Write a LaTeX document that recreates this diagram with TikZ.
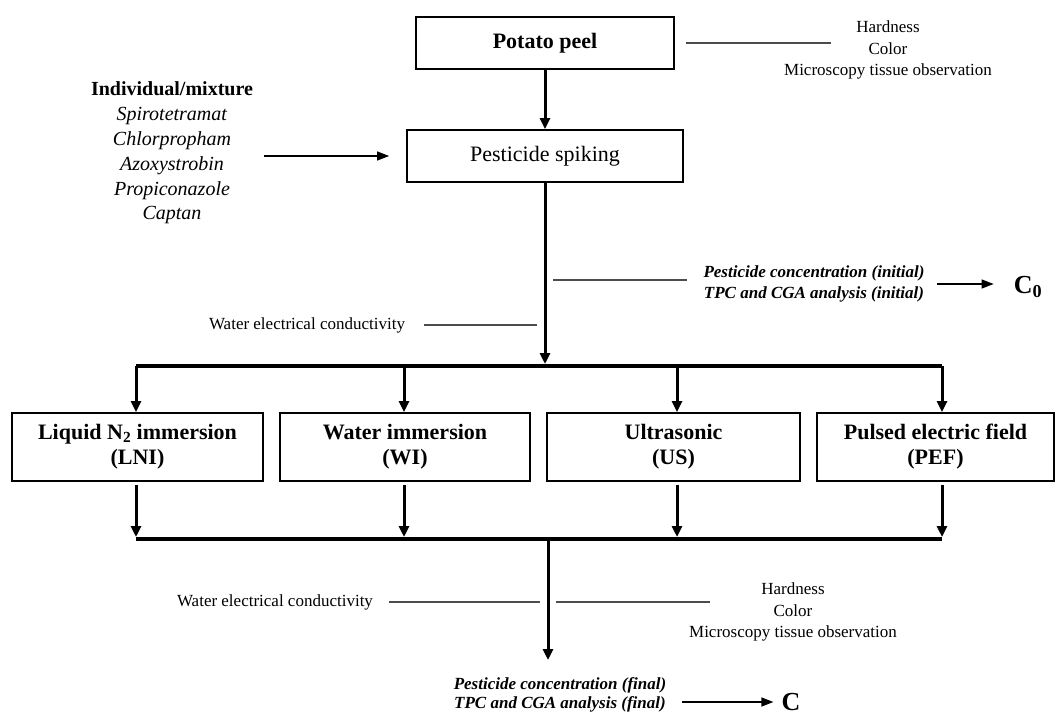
\documentclass[tikz,border=0pt]{standalone}
\usepackage{fontspec}
\setmainfont{Liberation Serif}
\usetikzlibrary{arrows.meta}

\newcommand{\boxfont}{\fontsize{22}{25}\selectfont}
\newcommand{\notefont}{\fontsize{17}{21.5}\selectfont}
\newcommand{\listfont}{\fontsize{20}{24.8}\selectfont}
\newcommand{\concfont}{\fontsize{17}{21}\selectfont\bfseries\itshape}
\newcommand{\resfont}{\fontsize{26}{30}\selectfont\bfseries}

\begin{document}
\begin{tikzpicture}[x=1pt, y=-1pt,
        block/.style={draw, line width=1.8pt, minimum height=52pt, inner sep=0pt, align=center, font=\boxfont},
        method/.style={block, minimum height=68pt, font=\boxfont\bfseries},
        note/.style={align=center, inner sep=0pt, font=\notefont},
        arrow/.style={-{Stealth[inset=0pt, length=11pt, width=10pt]}, line width=3pt},
        thin arrow/.style={-{Stealth[inset=0pt, length=12pt, width=9pt]}, line width=1.3pt},
        tick/.style={line width=1.1pt, black!70},
        bar/.style={line width=4.5pt}
    ]
    \useasboundingbox (0,0) rectangle (1057,717);

    % Nodes
    \node[block, minimum width=258pt, font=\boxfont\bfseries] (peel) at (545,43) {Potato peel};
    \node[block, minimum width=276pt] (spike) at (545,156) {Pesticide spiking};
    \node[note, font=\listfont] (mix) at (172,153) {\textbf{Individual/mixture}\\\textit{Spirotetramat}\\\textit{Chlorpropham}\\\textit{Azoxystrobin}\\\textit{Propiconazole}\\\textit{Captan}};
    \node[note] (props) at (888,50) {Hardness\\Color\\Microscopy tissue observation};
    \node[note, font=\concfont] (init) at (814,284) {Pesticide concentration (initial)\\TPC and CGA analysis (initial)};
    \node[font=\resfont, inner sep=0pt] (c0) at (1028,287) {C\textsubscript{0}};
    \node[note] (wec1) at (307,325) {Water electrical conductivity};

    \node[method, minimum width=251pt] (lni) at (137.5,447) {Liquid N\textsubscript{2} immersion\\(LNI)};
    \node[method, minimum width=250pt] (wi) at (405,447) {Water immersion\\(WI)};
    \node[method, minimum width=253pt] (us) at (673.5,447) {Ultrasonic\\(US)};
    \node[method, minimum width=237pt] (pef) at (935.5,447) {Pulsed electric field\\(PEF)};

    \node[note] (wec2) at (275,602) {Water electrical conductivity};
    \node[note] (props2) at (793,612) {Hardness\\Color\\Microscopy tissue observation};
    \node[note, font=\fontsize{17}{18.5}\selectfont\bfseries\itshape] (final) at (560,695) {Pesticide concentration (final)\\TPC and CGA analysis (final)};
    \node[font=\resfont, inner sep=0pt] (c) at (791,702) {C};

    % Junctions
    \coordinate (split) at (545,366);
    \coordinate (top1) at (136,366);
    \coordinate (top2) at (404,366);
    \coordinate (top3) at (677,366);
    \coordinate (top4) at (942,366);
    \coordinate (merge) at (548,539);
    \coordinate (bot1) at (136,539);
    \coordinate (bot2) at (404,539);
    \coordinate (bot3) at (677,539);
    \coordinate (bot4) at (942,539);
    \coordinate (out) at (548,660);

    % Arrows
    \draw[arrow] (peel) -- (spike);
    \draw[thin arrow, shorten <=11pt, shorten >=17pt] (mix.east |- spike.west) -- (spike.west);
    \draw[arrow, shorten >=2pt] (spike) -- (split);
    \draw[bar] (top1) -- (top4);
    \draw[arrow] (top1) -- (top1 |- lni.north);
    \draw[arrow] (top2) -- (top2 |- wi.north);
    \draw[arrow] (top3) -- (top3 |- us.north);
    \draw[arrow] (top4) -- (top4 |- pef.north);
    \draw[arrow, shorten <=3pt, shorten >=2pt] (bot1 |- lni.south) -- (bot1);
    \draw[arrow, shorten <=3pt, shorten >=2pt] (bot2 |- wi.south) -- (bot2);
    \draw[arrow, shorten <=3pt, shorten >=2pt] (bot3 |- us.south) -- (bot3);
    \draw[arrow, shorten <=3pt, shorten >=2pt] (bot4 |- pef.south) -- (bot4);
    \draw[bar] (bot1) -- (bot4);
    \draw[arrow] (merge) -- (out);
    \draw[thin arrow, shorten <=12pt, shorten >=20pt] (init.east) -- (c0.west |- init.east);
    \draw[thin arrow, shorten <=16pt, shorten >=8pt] (final.east |- c.west) -- (c.west);

    % Side lines
    \draw[tick] ([xshift=11pt]peel.east) -- (831,43);
    \draw[tick] (553,280) -- (687,280);
    \draw[tick] ([xshift=19pt]wec1.east) -- (537,325);
    \draw[tick] ([xshift=16pt]wec2.east) -- (540,602);
    \draw[tick] (556,602) -- (710,602);

\end{tikzpicture}
\end{document}
